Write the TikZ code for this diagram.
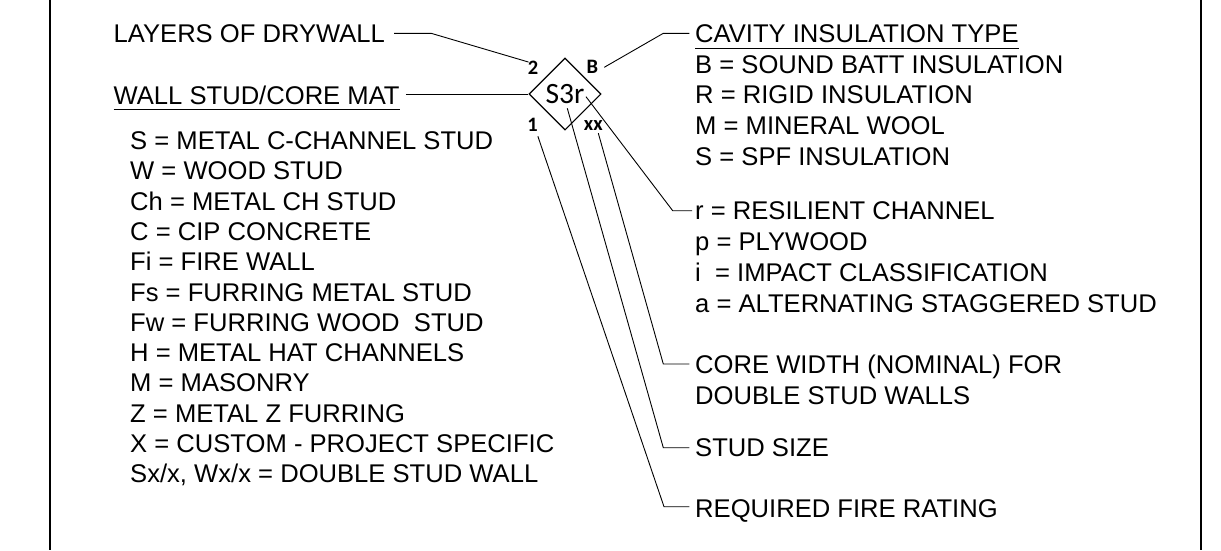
\documentclass[tikz,border=0pt]{standalone}
\usepackage{fontspec}
\setmainfont{Liberation Sans}
\newfontfamily\calib{Carlito}
\usetikzlibrary{shapes.geometric}
\begin{document}
\begin{tikzpicture}[x=1pt,y=-1pt,
  txt/.style={anchor=base west,inner sep=0pt,font=\fontsize{25.6}{30}\selectfont},
  lead/.style={line width=0.9pt},
  tag/.style={inner sep=0pt,font=\calib\bfseries\fontsize{20.5}{24}\selectfont},
  border/.style={line width=2pt}]
\useasboundingbox (0,0) rectangle (1221,550);
% frame
\draw[border] (50,0) -- (50,550);
\draw[border] (1201,0) -- (1201,550);
% tag
\node[diamond,draw,line width=1.1pt,minimum width=72pt,minimum height=72pt,inner sep=0pt,
      font=\calib\fontsize{29.5}{32}\selectfont] (d) at (565,94) {S3r};
\node[tag] (two) at (533,68) {2};
\node[tag] (bb) at (592.3,67.3) {B};
\node[tag] (one) at (532.5,125) {1};
\node[tag] (xx) at (593.3,126) {xx};
% left texts
\node[txt] (layers) at (113.5,42.7) {LAYERS OF DRYWALL};
\node[txt] (wall) at (113.5,104) {WALL STUD/CORE MAT};
\foreach \t [count=\i from 0] in {S = METAL C-CHANNEL STUD, W = WOOD STUD, Ch = METAL CH STUD,
  C = CIP CONCRETE, Fi = FIRE WALL, Fs = FURRING METAL STUD, Fw = FURRING WOOD\ \ STUD,
  H = METAL HAT CHANNELS, M = MASONRY, Z = METAL Z FURRING, X = CUSTOM - PROJECT SPECIFIC,
  {Sx/x, Wx/x = DOUBLE STUD WALL}}
  \node[txt] (ls\i) at (130,{149.5+30.3*\i}) {\t};
% right texts
\node[txt] (cavity) at (695,42.7) {CAVITY INSULATION TYPE};
\foreach \t [count=\i from 0] in {B = SOUND BATT INSULATION, R = RIGID INSULATION,
  M = MINERAL WOOL, S = SPF INSULATION}
  \node[txt] (cv\i) at (695,{73.3+30.6*\i}) {\t};
\node[txt] (res) at (695,219.3) {r = RESILIENT CHANNEL};
\foreach \t [count=\i from 1] in {p = PLYWOOD, i\ \ = IMPACT CLASSIFICATION, a = ALTERNATING STAGGERED STUD}
  \node[txt] (rs\i) at (695,{219.3+31*\i}) {\t};
\node[txt] (core) at (695,373.3) {CORE WIDTH (NOMINAL) FOR};
\node[txt] (core2) at (695,404) {DOUBLE STUD WALLS};
\node[txt] (size) at (695,456.7) {STUD SIZE};
\node[txt] (fire) at (695,517.3) {REQUIRED FIRE RATING};
% underlines
\draw[lead] ([yshift=-5.3pt]wall.base west) -- ([yshift=-5.3pt]wall.base east);
\draw[lead] ([yshift=-5.6pt]cavity.base west) -- ([yshift=-5.6pt]cavity.base east);
% leaders
\draw[lead] ([xshift=9pt,yshift=9.4pt]layers.base east) -- ([xshift=46pt,yshift=9.4pt]layers.base east) -- ([xshift=1pt,yshift=-1pt]two.north west);
\draw[lead] ([xshift=6pt,yshift=10pt]wall.base east) -- (d.west);
\draw[lead] ([xshift=6pt]bb.east) -- ([xshift=-31.7pt,yshift=9.4pt]cavity.base west) -- ([xshift=-5.7pt,yshift=9.4pt]cavity.base west);
\draw[lead] ([xshift=21pt,yshift=-2.7pt]d.center) -- ([xshift=-22.3pt,yshift=8.6pt]res.base west) -- ([xshift=-3pt,yshift=8.6pt]res.base west);
\draw[lead] ([xshift=5pt,yshift=-2pt]xx.south) -- ([xshift=-31.7pt,yshift=9.3pt]core.base west) -- ([xshift=-5.7pt,yshift=9.3pt]core.base west);
\draw[lead] ([xshift=2.3pt,yshift=-14.3pt]d.center) -- ([xshift=-31.7pt,yshift=9pt]size.base west) -- ([xshift=-5.7pt,yshift=9pt]size.base west);
\draw[lead] ([xshift=0pt,yshift=-4.5pt]one.south east) -- ([xshift=-31pt,yshift=10.6pt]fire.base west) -- ([xshift=-5.7pt,yshift=10.6pt]fire.base west);
\end{tikzpicture}
\end{document}
